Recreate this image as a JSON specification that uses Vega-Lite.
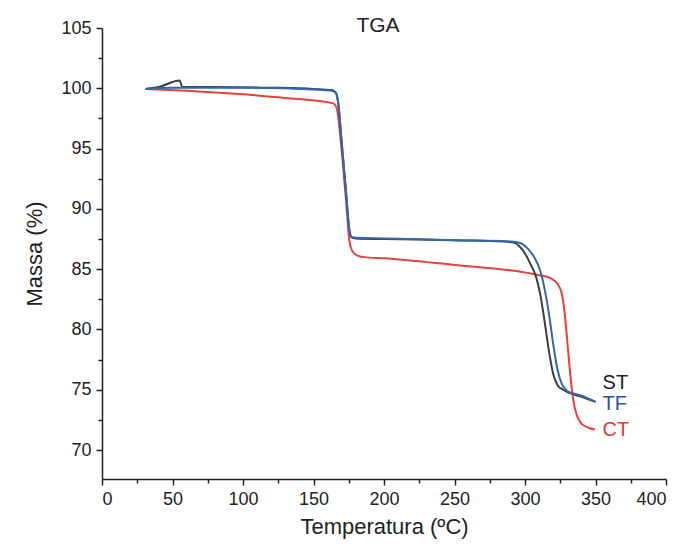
{
  "$schema": "https://vega.github.io/schema/vega-lite/v6.json",
  "width": 564,
  "height": 451,
  "autosize": {"type": "none"},
  "padding": {"left": 102, "top": 28, "right": 19, "bottom": 72},
  "background": "white",
  "title": {
    "text": "TGA",
    "font": "Liberation Sans",
    "fontSize": 21,
    "fontWeight": "normal",
    "color": "#222222",
    "anchor": "middle",
    "frame": "group",
    "baseline": "alphabetic",
    "offset": 0,
    "dy": 34,
    "dx": -6
  },
  "config": {
    "view": {"stroke": null},
    "axis": {
      "grid": false,
      "domainColor": "#222222",
      "domainWidth": 1.5,
      "tickColor": "#222222",
      "tickWidth": 1.5,
      "labelFont": "Liberation Sans",
      "labelFontSize": 18,
      "labelColor": "#222222",
      "titleFont": "Liberation Sans",
      "titleFontSize": 22,
      "titleFontWeight": "normal",
      "titleColor": "#222222"
    }
  },
  "datasets": {
    "curvas": [
      {"amostra": "CT", "temp": 31, "massa": 99.95},
      {"amostra": "CT", "temp": 60, "massa": 99.8},
      {"amostra": "CT", "temp": 100, "massa": 99.5},
      {"amostra": "CT", "temp": 130, "massa": 99.2},
      {"amostra": "CT", "temp": 164, "massa": 98.75},
      {"amostra": "CT", "temp": 166.5, "massa": 98.3},
      {"amostra": "CT", "temp": 170, "massa": 94.8},
      {"amostra": "CT", "temp": 173, "massa": 90.8},
      {"amostra": "CT", "temp": 175.5, "massa": 87.3},
      {"amostra": "CT", "temp": 177.5, "massa": 86.5},
      {"amostra": "CT", "temp": 181, "massa": 86.15},
      {"amostra": "CT", "temp": 186, "massa": 86.0},
      {"amostra": "CT", "temp": 200, "massa": 85.9},
      {"amostra": "CT", "temp": 250, "massa": 85.35},
      {"amostra": "CT", "temp": 296, "massa": 84.8},
      {"amostra": "CT", "temp": 310, "massa": 84.5},
      {"amostra": "CT", "temp": 318, "massa": 84.25},
      {"amostra": "CT", "temp": 323, "massa": 83.8},
      {"amostra": "CT", "temp": 326, "massa": 83.0},
      {"amostra": "CT", "temp": 328, "massa": 81.5},
      {"amostra": "CT", "temp": 330, "massa": 79.0},
      {"amostra": "CT", "temp": 332, "massa": 76.4},
      {"amostra": "CT", "temp": 334, "massa": 74.3},
      {"amostra": "CT", "temp": 337, "massa": 72.8},
      {"amostra": "CT", "temp": 340, "massa": 72.2},
      {"amostra": "CT", "temp": 345, "massa": 71.85},
      {"amostra": "CT", "temp": 349.5, "massa": 71.7},

      {"amostra": "ST", "temp": 31, "massa": 99.95},
      {"amostra": "ST", "temp": 40, "massa": 100.1},
      {"amostra": "ST", "temp": 55, "massa": 100.65},
      {"amostra": "ST", "temp": 57, "massa": 100.1},
      {"amostra": "ST", "temp": 80, "massa": 100.1},
      {"amostra": "ST", "temp": 120, "massa": 100.05},
      {"amostra": "ST", "temp": 150, "massa": 99.95},
      {"amostra": "ST", "temp": 163, "massa": 99.85},
      {"amostra": "ST", "temp": 166, "massa": 99.6},
      {"amostra": "ST", "temp": 167.5, "massa": 98.8},
      {"amostra": "ST", "temp": 170, "massa": 95.5},
      {"amostra": "ST", "temp": 173, "massa": 91.5},
      {"amostra": "ST", "temp": 175.5, "massa": 88.2},
      {"amostra": "ST", "temp": 177, "massa": 87.65},
      {"amostra": "ST", "temp": 180, "massa": 87.55},
      {"amostra": "ST", "temp": 200, "massa": 87.5},
      {"amostra": "ST", "temp": 250, "massa": 87.4},
      {"amostra": "ST", "temp": 285, "massa": 87.3},
      {"amostra": "ST", "temp": 292, "massa": 87.2},
      {"amostra": "ST", "temp": 296, "massa": 86.9},
      {"amostra": "ST", "temp": 300, "massa": 86.3},
      {"amostra": "ST", "temp": 304, "massa": 85.4},
      {"amostra": "ST", "temp": 308, "massa": 84.3},
      {"amostra": "ST", "temp": 311, "massa": 82.8},
      {"amostra": "ST", "temp": 314, "massa": 80.6},
      {"amostra": "ST", "temp": 317, "massa": 78.2},
      {"amostra": "ST", "temp": 320, "massa": 76.3},
      {"amostra": "ST", "temp": 323, "massa": 75.4},
      {"amostra": "ST", "temp": 327, "massa": 75.0},
      {"amostra": "ST", "temp": 335, "massa": 74.6},
      {"amostra": "ST", "temp": 343, "massa": 74.3},
      {"amostra": "ST", "temp": 350, "massa": 74.0},

      {"amostra": "TF", "temp": 31, "massa": 99.95},
      {"amostra": "TF", "temp": 50, "massa": 100.05},
      {"amostra": "TF", "temp": 100, "massa": 100.05},
      {"amostra": "TF", "temp": 150, "massa": 99.9},
      {"amostra": "TF", "temp": 163, "massa": 99.8},
      {"amostra": "TF", "temp": 166, "massa": 99.6},
      {"amostra": "TF", "temp": 167.5, "massa": 98.8},
      {"amostra": "TF", "temp": 170, "massa": 95.5},
      {"amostra": "TF", "temp": 173, "massa": 91.5},
      {"amostra": "TF", "temp": 175.5, "massa": 88.2},
      {"amostra": "TF", "temp": 177, "massa": 87.65},
      {"amostra": "TF", "temp": 180, "massa": 87.6},
      {"amostra": "TF", "temp": 200, "massa": 87.55},
      {"amostra": "TF", "temp": 250, "massa": 87.4},
      {"amostra": "TF", "temp": 290, "massa": 87.3},
      {"amostra": "TF", "temp": 297, "massa": 87.15},
      {"amostra": "TF", "temp": 302, "massa": 86.7},
      {"amostra": "TF", "temp": 307, "massa": 85.9},
      {"amostra": "TF", "temp": 311, "massa": 84.8},
      {"amostra": "TF", "temp": 314, "massa": 83.3},
      {"amostra": "TF", "temp": 317, "massa": 81.3},
      {"amostra": "TF", "temp": 320, "massa": 78.8},
      {"amostra": "TF", "temp": 323, "massa": 76.7},
      {"amostra": "TF", "temp": 326, "massa": 75.5},
      {"amostra": "TF", "temp": 330, "massa": 74.9},
      {"amostra": "TF", "temp": 340, "massa": 74.5},
      {"amostra": "TF", "temp": 350, "massa": 74.0}
    ],
    "rotulos": [
      {"amostra": "ST", "temp": 355, "massa": 75.6},
      {"amostra": "TF", "temp": 355, "massa": 73.8},
      {"amostra": "CT", "temp": 355, "massa": 71.7}
    ]
  },
  "layer": [
    {
      "data": {"name": "curvas"},
      "mark": {"type": "line", "strokeWidth": 2, "interpolate": "monotone"},
      "encoding": {
        "x": {
          "field": "temp", "type": "quantitative",
          "scale": {"domain": [0, 400], "nice": false, "zero": false},
          "axis": {"title": "Temperatura (ºC)", "values": [0, 50, 100, 150, 200, 250, 300, 350, 400], "tickSize": 6, "labelPadding": 5, "titlePadding": 8}
        },
        "y": {
          "field": "massa", "type": "quantitative",
          "scale": {"domain": [67.6, 105], "nice": false, "zero": false},
          "axis": {"title": "Massa (%)", "values": [70, 75, 80, 85, 90, 95, 100, 105], "tickSize": 6, "labelPadding": 5, "titlePadding": 14}
        },
        "color": {
          "field": "amostra", "type": "nominal",
          "scale": {"domain": ["CT", "ST", "TF"], "range": ["#e8403c", "#3a3f48", "#3566a6"]},
          "legend": null
        },
        "order": {"field": "temp"}
      }
    },
    {
      "data": {"name": "curvas"},
      "mark": {"type": "point", "opacity": 0},
      "encoding": {
        "x": {
          "field": "temp", "type": "quantitative",
          "axis": {"orient": "bottom", "title": null, "labels": false, "domain": false, "values": [25, 75, 125, 175, 225, 275, 325, 375], "tickSize": 4}
        },
        "y": {
          "field": "massa", "type": "quantitative",
          "axis": {"orient": "left", "title": null, "labels": false, "domain": false, "values": [72.5, 77.5, 82.5, 87.5, 92.5, 97.5, 102.5], "tickSize": 4}
        }
      }
    },
    {
      "data": {"name": "rotulos"},
      "mark": {"type": "text", "align": "left", "baseline": "middle", "font": "Liberation Sans", "fontSize": 20},
      "encoding": {
        "x": {"field": "temp", "type": "quantitative", "axis": null},
        "y": {"field": "massa", "type": "quantitative", "axis": null},
        "text": {"field": "amostra"},
        "color": {
          "field": "amostra", "type": "nominal",
          "scale": {"domain": ["CT", "ST", "TF"], "range": ["#e03a36", "#1e1e1e", "#2d4f95"]},
          "legend": null
        }
      }
    }
  ],
  "resolve": {"axis": {"x": "independent", "y": "independent"}, "scale": {"color": "independent"}}
}
